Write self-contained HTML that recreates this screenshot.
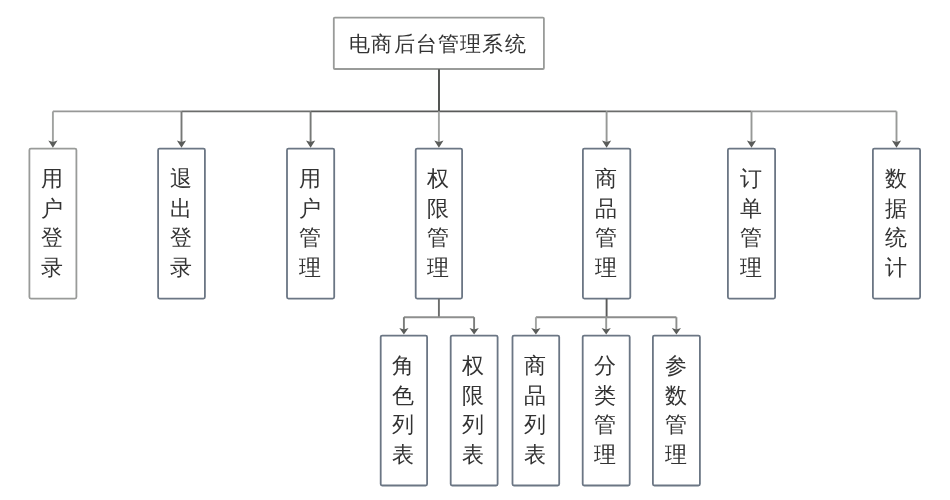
<!DOCTYPE html>
<html>
<head>
<meta charset="utf-8">
<style>
html,body{margin:0;padding:0;background:#fff;}
body{width:950px;height:500px;position:relative;overflow:hidden;font-family:"Liberation Sans",sans-serif;color:#333;}
svg{position:absolute;left:0;top:0;}
.c{position:absolute;width:40px;will-change:transform;font-size:22px;line-height:29.5px;text-align:center;}
.t{position:absolute;left:332px;will-change:transform;top:18px;width:212px;height:51px;font-size:21px;letter-spacing:1.2px;line-height:51px;text-align:center;}
</style>
</head>
<body>
<svg width="950" height="500" viewBox="0 0 950 500">
<g fill="none" stroke-width="1.8">
<rect x="333.8" y="17.6" width="210.1" height="51.4" rx="1" stroke="#999b99"/>
<rect x="29.4" y="148.6" width="47.0" height="150.0" rx="1.5" stroke="#999b99"/>
<rect x="158.1" y="148.6" width="46.8" height="150.0" rx="1.5" stroke="#6b7684"/>
<rect x="287.0" y="148.6" width="47.2" height="150.0" rx="1.5" stroke="#6b7684"/>
<rect x="415.7" y="148.6" width="46.4" height="150.0" rx="1.5" stroke="#6b7684"/>
<rect x="582.9" y="148.6" width="47.4" height="150.0" rx="1.5" stroke="#6b7684"/>
<rect x="727.9" y="148.6" width="47.2" height="150.0" rx="1.5" stroke="#6b7684"/>
<rect x="872.9" y="148.6" width="47.2" height="150.0" rx="1.5" stroke="#6b7684"/>
<rect x="380.7" y="335.6" width="46.4" height="149.9" rx="1.5" stroke="#6b7684"/>
<rect x="450.7" y="335.6" width="46.9" height="149.9" rx="1.5" stroke="#6b7684"/>
<rect x="512.5" y="335.6" width="46.7" height="149.9" rx="1.5" stroke="#6b7684"/>
<rect x="582.7" y="335.6" width="47.0" height="149.9" rx="1.5" stroke="#6b7684"/>
<rect x="652.9" y="335.6" width="47.0" height="149.9" rx="1.5" stroke="#6b7684"/>
</g>
<g fill="none" stroke-width="1.9">
<path d="M439.0 69.2V111.4" stroke="#4b4d4b"/>
<path d="M52.9 111.4H181.5" stroke="#979897"/>
<path d="M181.5 111.4H310.6" stroke="#6c6d6c"/>
<path d="M310.6 111.4H606.6" stroke="#595a59"/>
<path d="M606.6 111.4H751.5" stroke="#6c6d6c"/>
<path d="M751.5 111.4H896.5" stroke="#979897"/>
<path d="M52.9 111.4V143.6" stroke="#a0a2a0"/>
<path d="M181.5 111.4V143.6" stroke="#767876"/>
<path d="M310.6 111.4V143.6" stroke="#777977"/>
<path d="M438.9 111.4V143.6" stroke="#a4a6a4"/>
<path d="M606.6 111.4V143.6" stroke="#969896"/>
<path d="M751.5 111.4V143.6" stroke="#969896"/>
<path d="M896.5 111.4V143.6" stroke="#989a98"/>
<path d="M438.9 298.6V317.2" stroke="#6c6d6c"/>
<path d="M403.9 317.2H474.1" stroke="#8e8f8e"/>
<path d="M606.6 298.6V317.2" stroke="#595a59"/>
<path d="M535.9 317.2H676.4" stroke="#8c8d8c"/>
<path d="M403.9 317.2V330.6" stroke="#7a7c7a"/>
<path d="M474.1 317.2V330.6" stroke="#7c7e7c"/>
<path d="M535.9 317.2V330.6" stroke="#a2a4a2"/>
<path d="M606.2 317.2V330.6" stroke="#969896"/>
<path d="M676.4 317.2V330.6" stroke="#8c8e8c"/>
</g>
<g fill="#5a5c5a" stroke="none">
<path d="M48.3 140.5L52.9 147.8L57.5 140.5L52.9 142.1Z"/>
<path d="M176.9 140.5L181.5 147.8L186.1 140.5L181.5 142.1Z"/>
<path d="M306.0 140.5L310.6 147.8L315.2 140.5L310.6 142.1Z"/>
<path d="M434.3 140.5L438.9 147.8L443.5 140.5L438.9 142.1Z"/>
<path d="M602.0 140.5L606.6 147.8L611.2 140.5L606.6 142.1Z"/>
<path d="M746.9 140.5L751.5 147.8L756.1 140.5L751.5 142.1Z"/>
<path d="M891.9 140.5L896.5 147.8L901.1 140.5L896.5 142.1Z"/>
<path d="M399.3 328.0L403.9 334.6L408.5 328.0L403.9 329.6Z"/>
<path d="M469.5 328.0L474.1 334.6L478.8 328.0L474.1 329.6Z"/>
<path d="M531.2 328.0L535.9 334.6L540.5 328.0L535.9 329.6Z"/>
<path d="M601.6 328.0L606.2 334.6L610.8 328.0L606.2 329.6Z"/>
<path d="M671.8 328.0L676.4 334.6L681.0 328.0L676.4 329.6Z"/>
</g>
</svg>
<div class="t">电商后台管理系统</div>
<div class="c" style="left:32.1px;top:164.2px">用<br>户<br>登<br>录</div>
<div class="c" style="left:160.7px;top:164.2px">退<br>出<br>登<br>录</div>
<div class="c" style="left:289.8px;top:164.2px">用<br>户<br>管<br>理</div>
<div class="c" style="left:418.1px;top:164.2px">权<br>限<br>管<br>理</div>
<div class="c" style="left:585.8px;top:164.2px">商<br>品<br>管<br>理</div>
<div class="c" style="left:730.7px;top:164.2px">订<br>单<br>管<br>理</div>
<div class="c" style="left:875.7px;top:164.2px">数<br>据<br>统<br>计</div>
<div class="c" style="left:383.1px;top:351.2px">角<br>色<br>列<br>表</div>
<div class="c" style="left:453.3px;top:351.2px">权<br>限<br>列<br>表</div>
<div class="c" style="left:515.1px;top:351.2px">商<br>品<br>列<br>表</div>
<div class="c" style="left:585.4px;top:351.2px">分<br>类<br>管<br>理</div>
<div class="c" style="left:655.6px;top:351.2px">参<br>数<br>管<br>理</div>
</body>
</html>
